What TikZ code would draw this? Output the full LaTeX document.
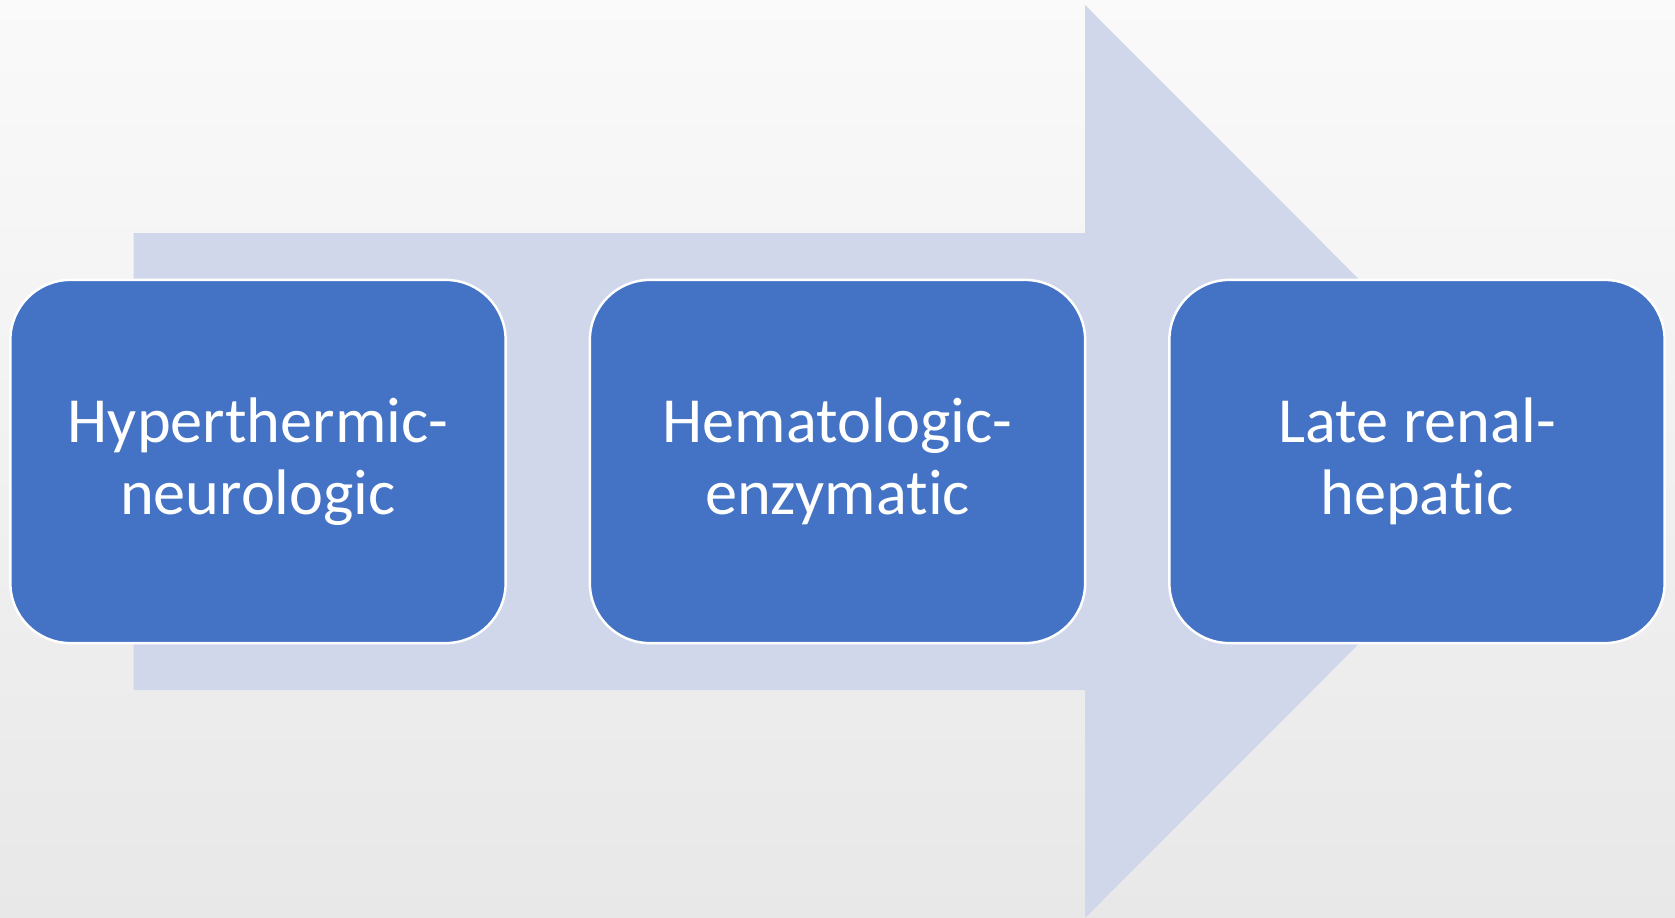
\documentclass[tikz,border=0pt]{standalone}
\usepackage{fontspec}
\setmainfont{Carlito}[Ligatures=NoCommon]
\definecolor{boxblue}{HTML}{4472C4}
\definecolor{arrowtint}{HTML}{D0D7EA}
\begin{document}
\begin{tikzpicture}[x=0.01cm, y=-0.01cm, text=white,
    stage/.style={draw=white, line width=0.7pt, fill=boxblue, rounded corners=0.6cm,
        minimum width=4.95cm, minimum height=3.63cm, align=center,
        font=\fontsize{18.3}{20.3}\selectfont}]
	\shade[top color=white!98!black, bottom color=white!91!black] (0,0) rectangle (1675,918);
	\useasboundingbox (0,0) rectangle (1675,918);
	% big arrow behind the stages
	\fill[arrowtint] (133.5,233) -- (1085,233) -- (1085,5) -- (1541,461.5)
	    -- (1085,918) -- (1085,690) -- (133.5,690) -- cycle;
	\foreach \x/\txt [count=\i] in {258/{Hyperthermic-\\neurologic},
	    837.5/{Hematologic-\\enzymatic}, 1417/{Late renal-\\hepatic}}{
		\node[stage] (s\i) at (\x,461.5) {\txt};}

    \end{tikzpicture}
\end{document}
